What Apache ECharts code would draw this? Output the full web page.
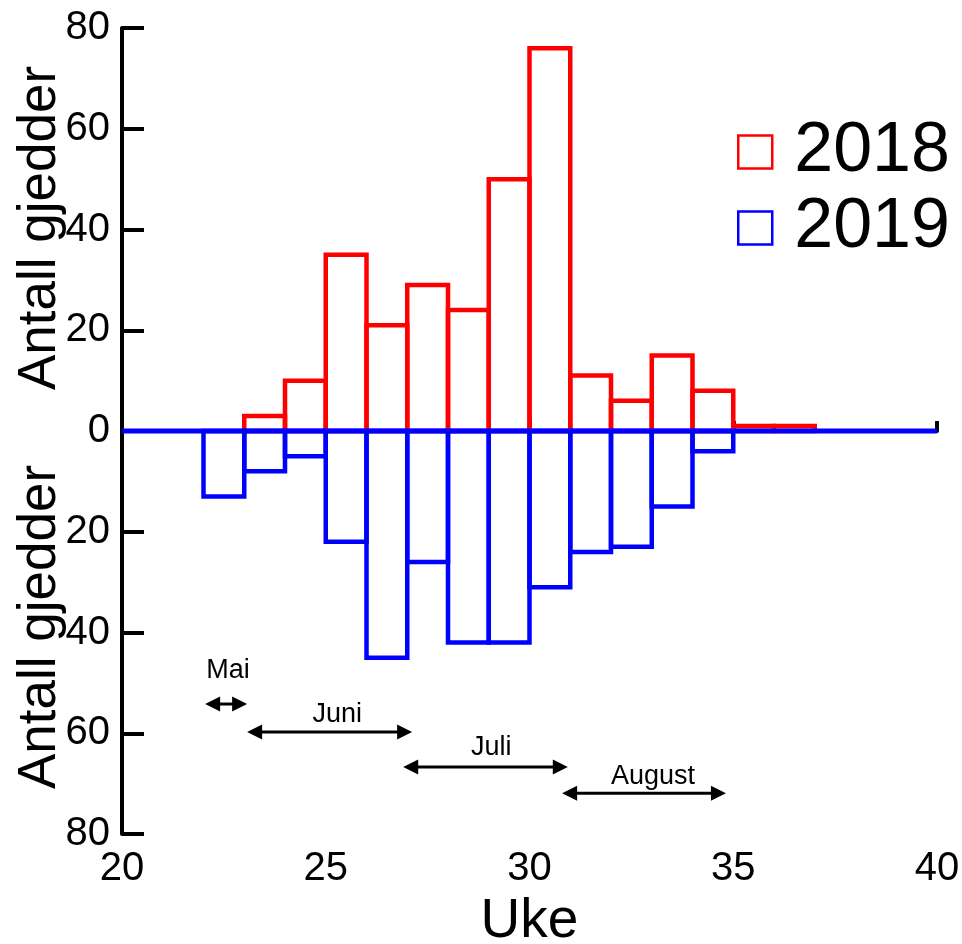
<!DOCTYPE html>
<html><head><meta charset="utf-8">
<script src="https://cdn.jsdelivr.net/npm/echarts@6/dist/echarts.min.js"></script>
<style>html,body{margin:0;padding:0;background:#fff}#c{width:962px;height:944px}</style>
</head><body><div id="c"></div>
<script>
// Week start of each bar (bar spans week .. week+1)
const weeks = [20,21,22,23,24,25,26,27,28,29,30,31,32,33,34,35,36,37,38,39];
const counts2018 = [0,0,0,3,10,35,21,29,24,50,76,11,6,15,8,1,1,0,0,0];
const counts2019 = [0,0,13,8,5,22,45,26,42,42,31,24,23,15,4,0,0,0,0,0];
const yTicks = [-80,-60,-40,-20,0,20,40,60,80];
const xTicks = [20,25,30,35,40];
// Month annotations (weeks)
const monthNames = ['Mai','Juni','Juli','August'];
const monthStart = [22.04,23.07,26.9,30.8];
const monthEnd   = [23.07,27.12,30.94,34.82];
const monthArrowLevel = [-54.2,-59.75,-66.7,-71.9];
const monthLabelX = [22.6,25.28,29.06,33.03];
const monthLabelLevel = [-47.5,-56.3,-62.8,-68.5];

const FONT = "'Liberation Sans', Arial, sans-serif";
const RED = '#ff0000', BLUE = '#0000ff';

function barSeries(name, values, sign, color, z){
  return {
    name, type:'custom', coordinateSystem:'cartesian2d', z,
    itemStyle:{color},
    data: weeks.map((w,i)=>[w, sign*values[i]]).filter(d=>d[1]!==0),
    renderItem(params, api){
      const x0 = api.value(0), v = api.value(1);
      const p0 = api.coord([x0,0]), p1 = api.coord([x0+1,v]);
      return {type:'rect', shape:{x:p0[0], y:Math.min(p0[1],p1[1]), width:p1[0]-p0[0], height:Math.abs(p1[1]-p0[1])},
        style:{fill:null, stroke:color, lineWidth:4.5}};
    }
  };
}

const monthData = monthNames.map((n,i)=>[monthStart[i], monthEnd[i], monthArrowLevel[i], monthLabelX[i], monthLabelLevel[i], i]);

const option = {
  animation:false,
  backgroundColor:'#fff',
  grid:{left:122, right:25, top:28, bottom:110, containLabel:false, outerBoundsMode:'none'},
  xAxis:{type:'value', min:20, max:40, interval:5,
    name:'Uke', nameLocation:'middle', nameGap:60,
    nameTextStyle:{fontSize:55, color:'#000', fontFamily:FONT},
    axisLine:{show:true, lineStyle:{color:'#000', width:4}},
    axisTick:{show:true, inside:true, length:10, lineStyle:{color:'#000', width:4}},
    axisLabel:{fontSize:40, color:'#000', fontFamily:FONT, margin:15},
    splitLine:{show:false}},
  yAxis:{type:'value', min:-80, max:80, interval:20,
    axisLine:{show:true, lineStyle:{color:'#000', width:4}},
    axisTick:{show:true, inside:true, length:22, lineStyle:{color:'#000', width:4}},
    axisLabel:{fontSize:40, color:'#000', fontFamily:FONT, margin:12, formatter:v=>String(Math.abs(v))},
    splitLine:{show:false}},
  legend:{orient:'vertical', left:732, top:112, itemWidth:34, itemHeight:33, itemGap:6,
    textStyle:{fontSize:70, lineHeight:60, color:'#000', fontFamily:FONT, padding:[0,0,0,17]},
    data:[
      {name:'2018', icon:'rect', itemStyle:{color:'#fff', borderColor:RED, borderWidth:2.5}},
      {name:'2019', icon:'rect', itemStyle:{color:'#fff', borderColor:BLUE, borderWidth:2.5}}
    ]},
  graphic:[
    {type:'text', x:14, y:228, rotation:Math.PI/2, style:{text:'Antall gjedder', font:"53px 'Liberation Sans', Arial", fill:'#000', align:'center', verticalAlign:'top'}},
    {type:'text', x:14, y:627, rotation:Math.PI/2, style:{text:'Antall gjedder', font:"53px 'Liberation Sans', Arial", fill:'#000', align:'center', verticalAlign:'top'}}
  ],
  series:[
    barSeries('2018', counts2018, 1, RED, 2),
    barSeries('2019', counts2019, -1, BLUE, 3),
    {name:'zero', type:'line', data:[[20,0],[40,0]], symbol:'none', z:5,
      lineStyle:{color:BLUE, width:5}, silent:true},
    {name:'months', type:'custom', coordinateSystem:'cartesian2d', z:6, silent:true,
      data: monthData,
      renderItem(params, api){
        const a = api.coord([api.value(0), api.value(2)]);
        const b = api.coord([api.value(1), api.value(2)]);
        const t = api.coord([api.value(3), api.value(4)]);
        const name = monthNames[api.value(5)];
        const hl = 15, hh = 7.5;
        return {type:'group', children:[
          {type:'line', shape:{x1:a[0]+hl-2, y1:a[1], x2:b[0]-hl+2, y2:b[1]}, style:{stroke:'#000', lineWidth:3}},
          {type:'polygon', shape:{points:[[a[0],a[1]],[a[0]+hl,a[1]-hh],[a[0]+hl,a[1]+hh]]}, style:{fill:'#000'}},
          {type:'polygon', shape:{points:[[b[0],b[1]],[b[0]-hl,b[1]-hh],[b[0]-hl,b[1]+hh]]}, style:{fill:'#000'}},
          {type:'text', x:t[0], y:t[1], style:{text:name, font:"27px 'Liberation Sans', Arial", fill:'#000', align:'center', verticalAlign:'middle'}}
        ]};
      }}
  ]
};
const chart = echarts.init(document.getElementById('c'), null, {renderer:'canvas'});
chart.setOption(option);
</script></body></html>
